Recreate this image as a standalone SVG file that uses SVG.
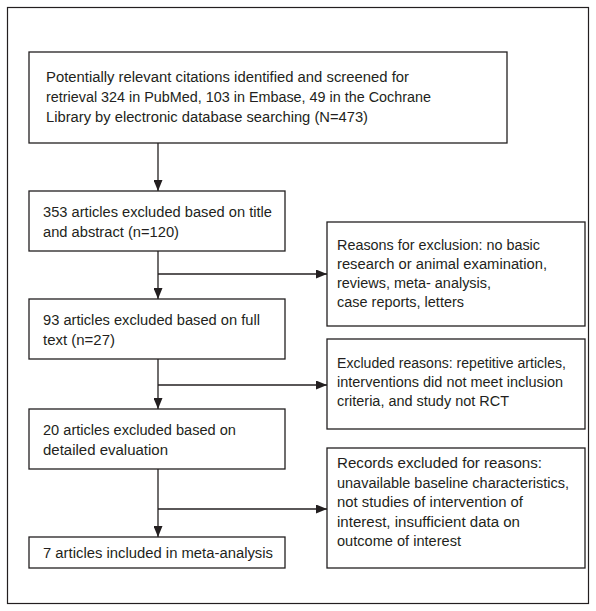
<svg xmlns="http://www.w3.org/2000/svg" width="596" height="611" viewBox="0 0 596 611">
<style>
.box{fill:#fff;stroke:#231f20;stroke-width:1.3}
.t{font-family:"Liberation Sans",Arial,sans-serif;font-size:15.5px;fill:#231f20}
.ln{fill:none;stroke:#231f20;stroke-width:1.3}
</style>
<defs>
<marker id="ah" markerUnits="userSpaceOnUse" markerWidth="11" markerHeight="9" refX="11" refY="4.5" orient="auto">
<path d="M0,0 L11,4.5 L0,9 z" fill="#231f20"/>
</marker>
</defs>
<rect x="7.5" y="7.5" width="581" height="596" fill="#fff" stroke="#231f20" stroke-width="1.2"/>
<g id="connectors">
<line class="ln" x1="158" y1="143" x2="158" y2="191" marker-end="url(#ah)"/>
<line class="ln" x1="158" y1="251" x2="158" y2="299" marker-end="url(#ah)"/>
<line class="ln" x1="158" y1="359" x2="158" y2="409" marker-end="url(#ah)"/>
<line class="ln" x1="158" y1="469" x2="158" y2="537" marker-end="url(#ah)"/>
<line class="ln" x1="158" y1="274" x2="327" y2="274" marker-end="url(#ah)"/>
<line class="ln" x1="158" y1="385" x2="327" y2="385" marker-end="url(#ah)"/>
<line class="ln" x1="158" y1="509" x2="327" y2="509" marker-end="url(#ah)"/>
</g>
<g id="n1">
<rect class="box" x="29" y="52" width="478" height="91"/>
<text class="t" x="46" y="82" textLength="363" lengthAdjust="spacingAndGlyphs">Potentially relevant citations identified and screened for</text>
<text class="t" x="46" y="102" textLength="385" lengthAdjust="spacingAndGlyphs">retrieval 324 in PubMed, 103 in Embase, 49 in the Cochrane</text>
<text class="t" x="46" y="122" textLength="322" lengthAdjust="spacingAndGlyphs">Library by electronic database searching (N=473)</text>
</g>
<g id="n2">
<rect class="box" x="29" y="191" width="256" height="60"/>
<text class="t" x="43" y="217" textLength="229" lengthAdjust="spacingAndGlyphs">353 articles excluded based on title</text>
<text class="t" x="43" y="237" textLength="136" lengthAdjust="spacingAndGlyphs">and abstract (n=120)</text>
</g>
<g id="n3">
<rect class="box" x="29" y="299" width="256" height="60"/>
<text class="t" x="43" y="325" textLength="217" lengthAdjust="spacingAndGlyphs">93 articles excluded based on full</text>
<text class="t" x="43" y="345" textLength="72" lengthAdjust="spacingAndGlyphs">text (n=27)</text>
</g>
<g id="n4">
<rect class="box" x="29" y="409" width="256" height="60"/>
<text class="t" x="43" y="435" textLength="193" lengthAdjust="spacingAndGlyphs">20 articles excluded based on</text>
<text class="t" x="43" y="455" textLength="125" lengthAdjust="spacingAndGlyphs">detailed evaluation</text>
</g>
<g id="n5">
<rect class="box" x="29" y="537" width="256" height="31"/>
<text class="t" x="43" y="558" textLength="230" lengthAdjust="spacingAndGlyphs">7 articles included in meta-analysis</text>
</g>
<g id="r1">
<rect class="box" x="327" y="222" width="258" height="104"/>
<text class="t" x="337" y="250" textLength="203" lengthAdjust="spacingAndGlyphs">Reasons for exclusion: no basic</text>
<text class="t" x="337" y="269" textLength="210" lengthAdjust="spacingAndGlyphs">research or animal examination,</text>
<text class="t" x="337" y="288" textLength="154" lengthAdjust="spacingAndGlyphs">reviews, meta- analysis,</text>
<text class="t" x="337" y="307" textLength="127" lengthAdjust="spacingAndGlyphs">case reports, letters</text>
</g>
<g id="r2">
<rect class="box" x="327" y="339" width="258" height="90"/>
<text class="t" x="337" y="368" textLength="229" lengthAdjust="spacingAndGlyphs">Excluded reasons: repetitive articles,</text>
<text class="t" x="337" y="387" textLength="226" lengthAdjust="spacingAndGlyphs">interventions did not meet inclusion</text>
<text class="t" x="337" y="406" textLength="172" lengthAdjust="spacingAndGlyphs">criteria, and study not RCT</text>
</g>
<g id="r3">
<rect class="box" x="327" y="448" width="258" height="120"/>
<text class="t" x="337" y="468" textLength="205" lengthAdjust="spacingAndGlyphs">Records excluded for reasons:</text>
<text class="t" x="337" y="487.5" textLength="232" lengthAdjust="spacingAndGlyphs">unavailable baseline characteristics,</text>
<text class="t" x="337" y="507" textLength="186" lengthAdjust="spacingAndGlyphs">not studies of intervention of</text>
<text class="t" x="337" y="526.5" textLength="183" lengthAdjust="spacingAndGlyphs">interest, insufficient data on</text>
<text class="t" x="337" y="546" textLength="124" lengthAdjust="spacingAndGlyphs">outcome of interest</text>
</g>
</svg>
